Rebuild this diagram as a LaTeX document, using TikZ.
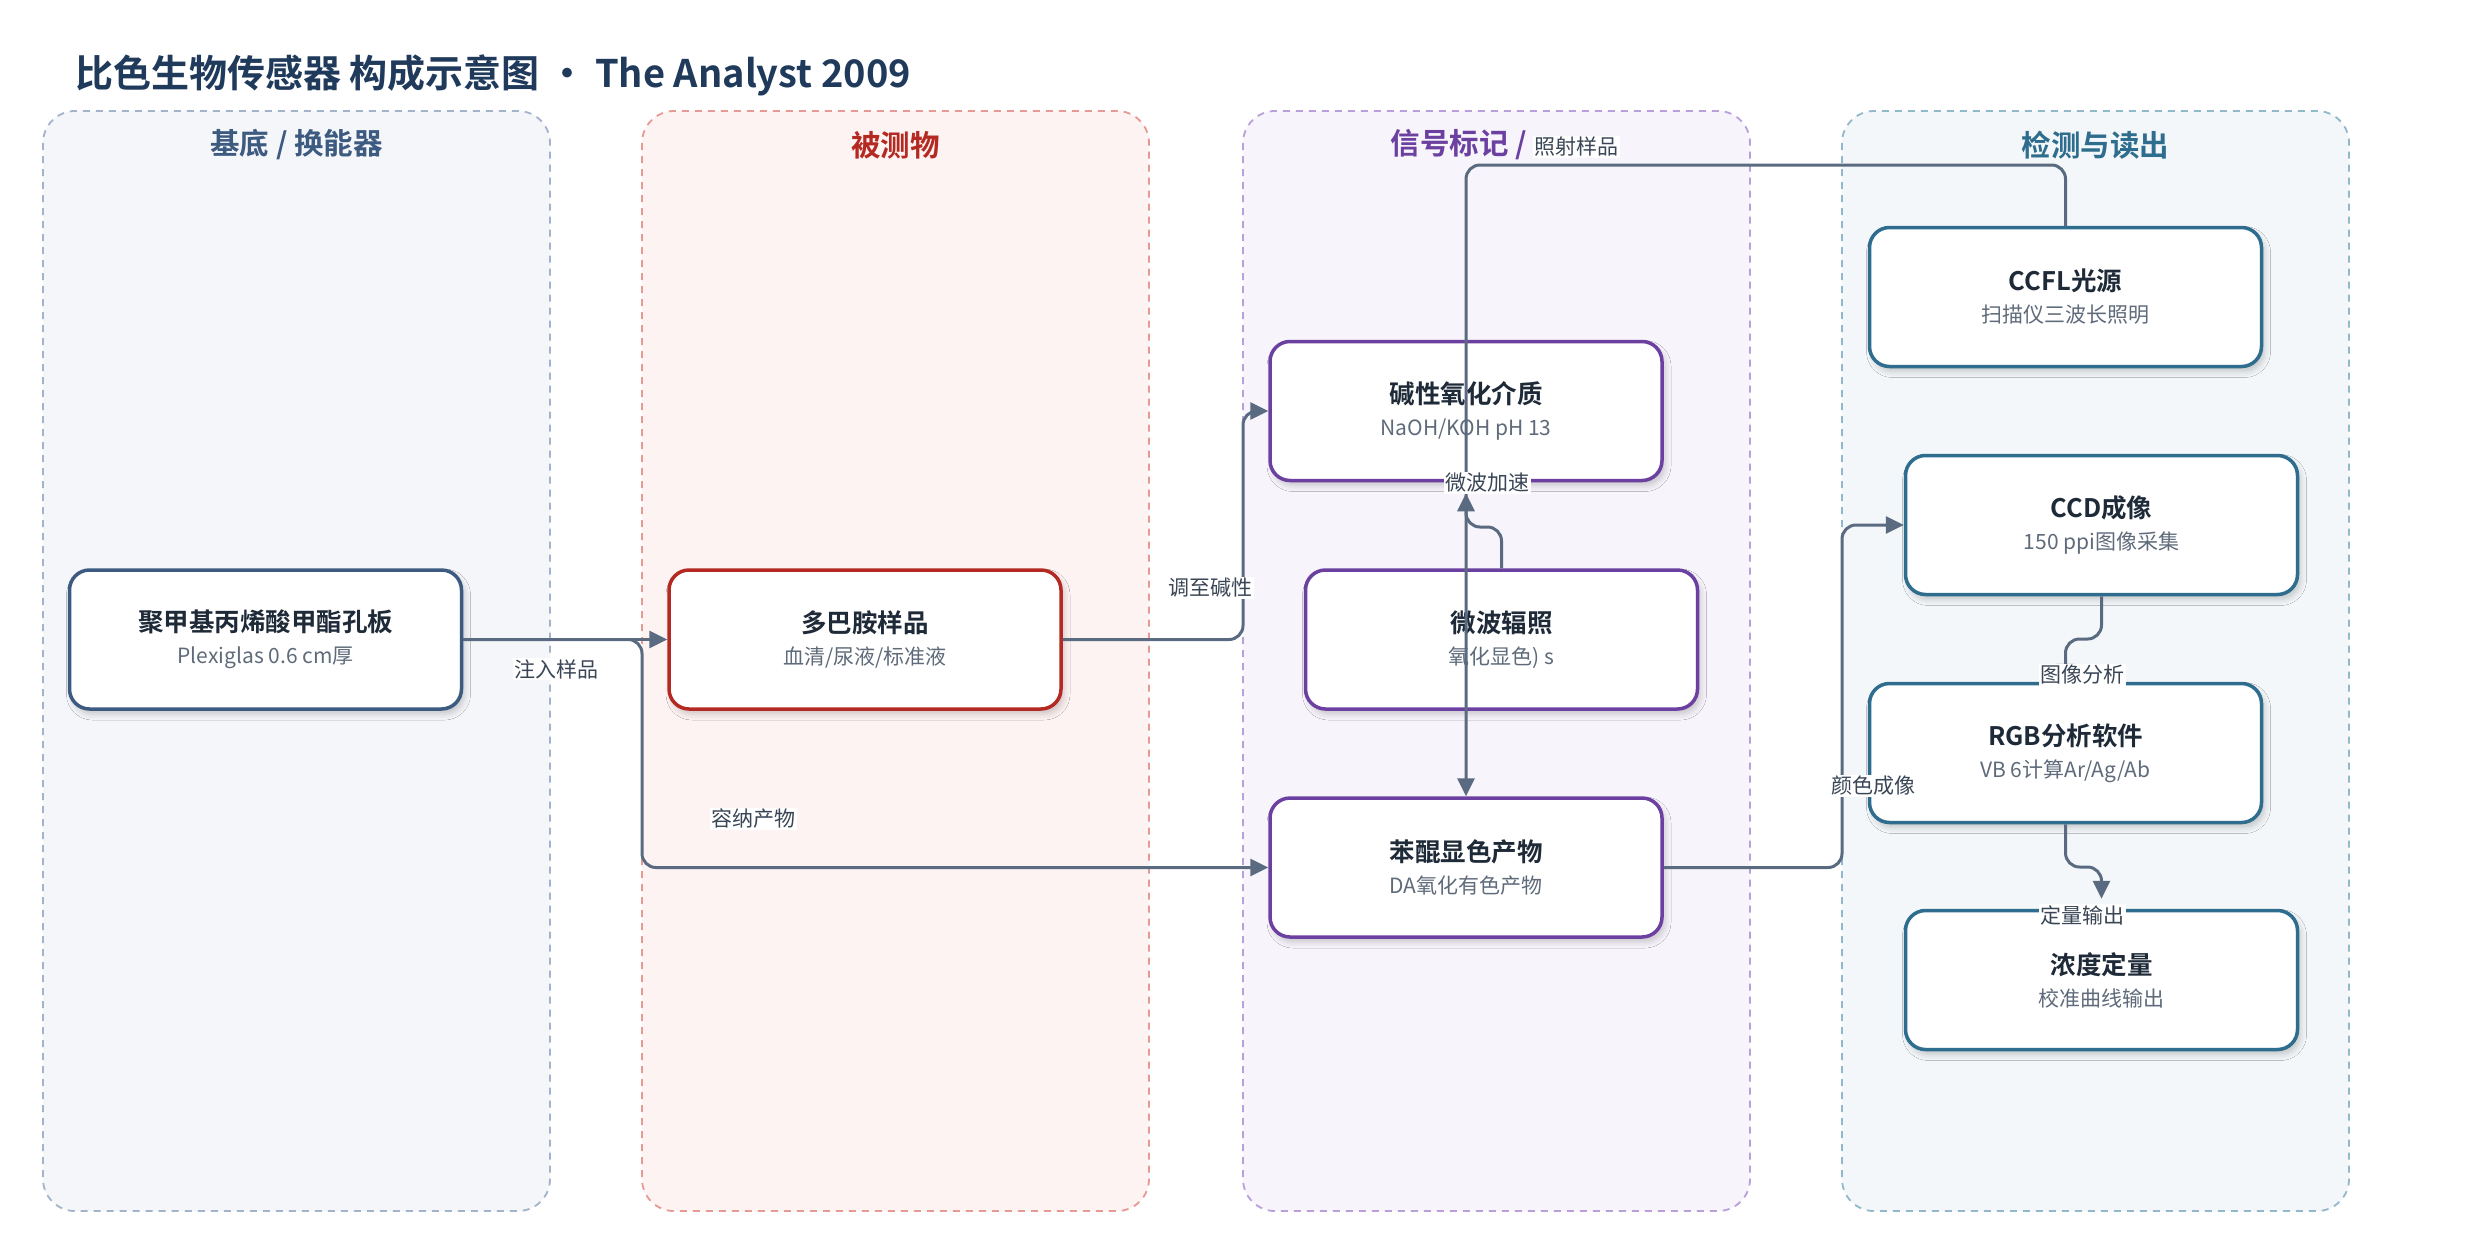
\documentclass[tikz,border=0pt]{standalone}
\usepackage{fontspec}
\setmainfont{Noto Sans CJK SC}[BoldFont=* Bold]
\usetikzlibrary{arrows.meta,shadows.blur}
\definecolor{titlec}{HTML}{1F3A5A}
\definecolor{edgec}{HTML}{5A6A80}
\definecolor{labc}{HTML}{3A4656}
\definecolor{subc}{HTML}{5F6B7A}
\definecolor{ntext}{HTML}{1E2A38}
\definecolor{cA}{HTML}{3D5A80}
\definecolor{fA}{HTML}{F4F6FA}
\definecolor{bA}{HTML}{A3B3CB}
\definecolor{cB}{HTML}{B42A22}
\definecolor{fB}{HTML}{FDF3F2}
\definecolor{bB}{HTML}{E59A94}
\definecolor{cC}{HTML}{6B40A0}
\definecolor{fC}{HTML}{F7F4FB}
\definecolor{bC}{HTML}{B9A0DA}
\definecolor{cD}{HTML}{2E6D8E}
\definecolor{fD}{HTML}{F3F7F9}
\definecolor{bD}{HTML}{92B8CB}
\newcommand{\nt}[2]{{\bfseries\fontsize{25.5}{32}\selectfont\color{ntext}#1}\\{\fontsize{21}{32}\selectfont\color{subc}#2}}
\tikzset{
  panel/.style={line width=1.8pt, dash pattern=on 7pt off 6pt, rounded corners=32pt},
  ptitle/.style={font=\bfseries\fontsize{29.5}{34}\selectfont, inner sep=0pt},
  box/.style={rectangle, rounded corners=20pt, line width=3.5pt, fill=white,
    minimum width=392pt, minimum height=139pt, align=center, inner sep=0pt,
    font=\fontsize{21}{32}\selectfont,
    blur shadow={shadow xshift=3pt, shadow yshift=-5pt, shadow blur radius=6pt, shadow opacity=20}},
  conn/.style={draw=edgec, line width=3pt, rounded corners=14pt, -{Triangle[length=18pt,width=17pt]}},
  elab/.style={fill=white, text=labc, font=\fontsize{21}{24}\selectfont, inner sep=1.5pt}
}
\begin{document}
\begin{tikzpicture}[x=1pt,y=-1pt]
\useasboundingbox (0,0) rectangle (2492,1235);
\fill[white] (0,0) rectangle (2492,1235);
% title
\node[anchor=west, text=titlec, font=\bfseries\fontsize{38}{44}\selectfont, inner sep=0pt] (title) at (75,75) {比色生物传感器 构成示意图 • The Analyst 2009};
% panels
\draw[panel, draw=bA, fill=fA] (43,111) rectangle (550,1211);
\draw[panel, draw=bB, fill=fB] (642,111) rectangle (1149,1211);
\draw[panel, draw=bC, fill=fC] (1243,111) rectangle (1750,1211);
\draw[panel, draw=bD, fill=fD] (1842,111) rectangle (2349,1211);
\node[ptitle, text=cA] (p1) at (296.5,145) {基底 / 换能器};
\node[ptitle, text=cB] (p2) at (895.5,145) {被测物};
\node[ptitle, text=cC, anchor=east] (p3) at (1527,145) {信号标记 /};
\node[ptitle, text=cD] (p4) at (2095.5,145) {检测与读出};
% nodes
\node[box, draw=cA] (A) at (265.5,639.5) {\nt{聚甲基丙烯酸甲酯孔板}{Plexiglas 0.6 cm厚}};
\node[box, draw=cB] (B) at (865,639.5) {\nt{多巴胺样品}{血清/尿液/标准液}};
\node[box, draw=cC] (C) at (1466,411) {\nt{碱性氧化介质}{NaOH/KOH pH 13}};
\node[box, draw=cC] (D) at (1501.5,639.5) {\nt{微波辐照}{氧化显色) s}};
\node[box, draw=cC] (E) at (1466,867.5) {\nt{苯醌显色产物}{DA氧化有色产物}};
\node[box, draw=cD] (F) at (2065.5,297) {\nt{CCFL光源}{扫描仪三波长照明}};
\node[box, draw=cD] (G) at (2101.5,525) {\nt{CCD成像}{150 ppi图像采集}};
\node[box, draw=cD] (H) at (2065.5,753) {\nt{RGB分析软件}{VB 6计算Ar/Ag/Ab}};
\node[box, draw=cD] (I) at (2101.5,980) {\nt{浓度定量}{校准曲线输出}};
% connectors
\draw[conn] (A.east) -- (B.west);
\draw[conn] (A.east) -- (642,639.5) -- (642,867.5) -- (E.west);
\draw[conn] (B.east) -- (1243,639.5) -- (1243,411) -- (C.west);
\draw[conn, shorten >=11pt] (D.north) -- (1501.5,527) -- (1466,527) -- (C.south);
\draw[conn] (F.north) -- (2065.5,165) -- (1466,165) -- (E.north);
\draw[conn] (E.east) -- (1842,867.5) -- (1842,525) -- (G.west);
\draw[conn] (G.south) -- (2101.5,639) -- (2065.5,639) -- (H.north);
\draw[conn, shorten >=10pt] (H.south) -- (2065.5,867) -- (2101.5,867) -- (I.north);
% labels
\node[elab] (l1) at (556,669) {注入样品};
\node[elab] (l2) at (753,819) {容纳产物};
\node[elab] (l3) at (1210,588) {调至碱性};
\node[elab] (l4) at (1487,483) {微波加速};
\node[elab] (l5) at (1576,147) {照射样品};
\node[elab] (l6) at (1873,786) {颜色成像};
\node[elab] (l7) at (2082,675) {图像分析};
\node[elab] (l8) at (2082,915) {定量输出};
\end{tikzpicture}
\end{document}
